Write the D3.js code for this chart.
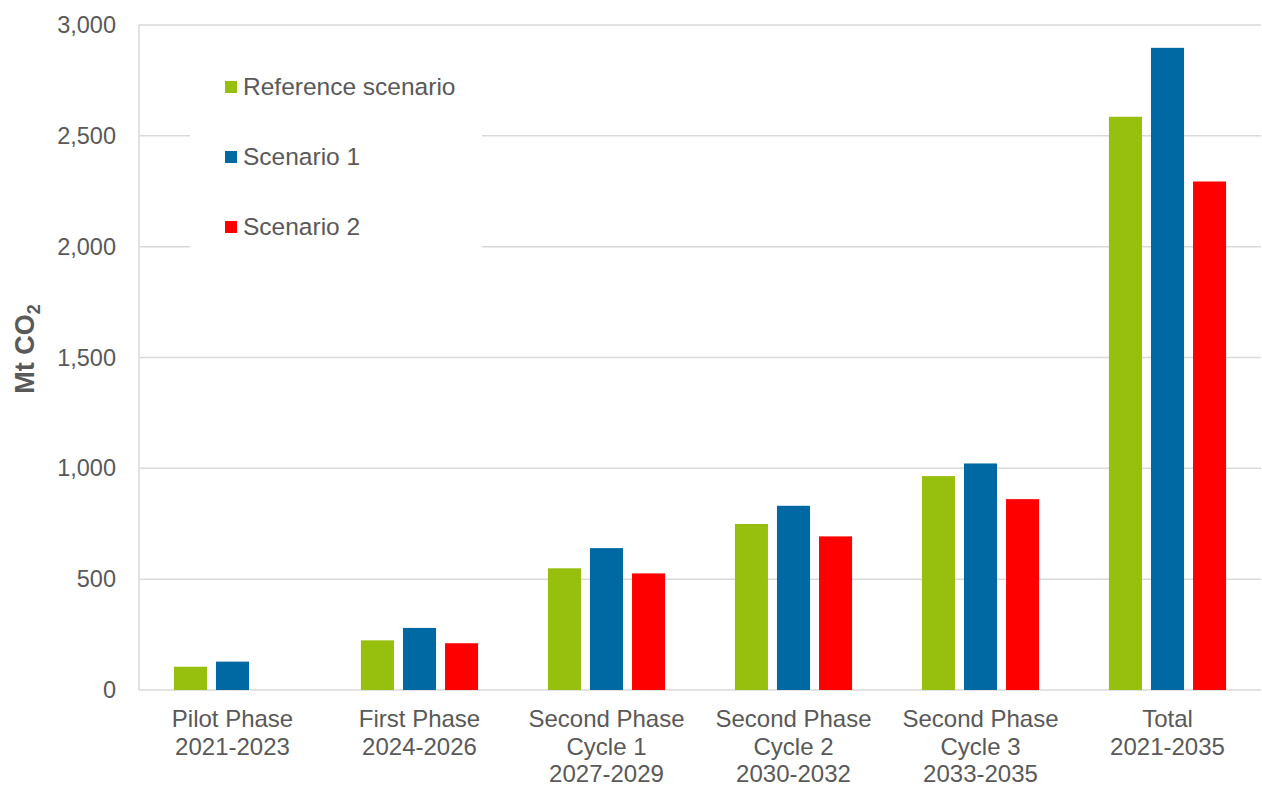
<!DOCTYPE html>
<html lang="en">
  <head>
    <meta charset="utf-8">
    <title>Mt CO2 by phase</title>
    <script src="https://d3js.org/d3.v7.min.js"></script>
    <style>
      body { margin: 0; background: #fff; }
    </style>
  </head>
  <body>
    <script type="text/javascript">
      // categories (each label is split into lines)
      const categories = [
        ["Pilot Phase", "2021-2023"],
        ["First Phase", "2024-2026"],
        ["Second Phase", "Cycle 1", "2027-2029"],
        ["Second Phase", "Cycle 2", "2030-2032"],
        ["Second Phase", "Cycle 3", "2033-2035"],
        ["Total", "2021-2035"]
      ];
      const seriesNames = ["Reference scenario", "Scenario 1", "Scenario 2"];
      const referenceValues = [105, 224, 549, 749, 965, 2586];
      const scenario1Values = [128, 280, 640, 831, 1022, 2897];
      const scenario2Values = [null, 211, 526, 693, 861, 2294];
      const yTicks = [0, 500, 1000, 1500, 2000, 2500, 3000];

      const svgWidth = 1262;
      const svgHeight = 787;
      const font = "'Liberation Sans', Arial, sans-serif";
      const textColor = "#595959";
      const gridColor = "#d9d9d9";
      const colors = ["#97bf0d", "#0069a3", "#ff0000"];

      const plotLeft = 139, plotRight = 1261, plotTop = 25, plotBottom = 690;

      const series = [referenceValues, scenario1Values, scenario2Values];
      const keys = categories.map(c => c.join(" "));

      var svg = d3.select("body")
        .append("svg")
        .attr("width", svgWidth)
        .attr("height", svgHeight);

      var xScale = d3.scaleBand()
        .domain(keys)
        .range([plotLeft, plotRight]);

      var xSub = d3.scaleBand()
        .domain(d3.range(series.length))
        .range([0, xScale.bandwidth()])
        .paddingInner(0.214)
        .paddingOuter(0.83);

      var yScale = d3.scaleLinear()
        .domain([0, 3000])
        .range([plotBottom, plotTop]);

      // gridlines
      svg.append("g")
        .attr("class", "grid")
        .selectAll("line")
        .data(yTicks)
        .enter()
        .append("line")
        .attr("x1", plotLeft)
        .attr("x2", plotRight)
        .attr("y1", d => yScale(d))
        .attr("y2", d => yScale(d))
        .attr("stroke", gridColor)
        .attr("stroke-width", 1.5);

      // vertical axis line
      svg.append("line")
        .attr("x1", plotLeft)
        .attr("x2", plotLeft)
        .attr("y1", yScale(3000))
        .attr("y2", yScale(0))
        .attr("stroke", gridColor)
        .attr("stroke-width", 1.5);

      // y tick labels
      var yAxis = svg.append("g")
        .attr("class", "y-axis")
        .attr("transform", `translate(${plotLeft - 23},0)`)
        .call(d3.axisLeft(yScale).tickValues(yTicks).tickFormat(d3.format(",")).tickSize(0).tickPadding(0));
      yAxis.select(".domain").remove();
      yAxis.selectAll("text")
        .attr("font-family", font)
        .attr("font-size", "23.5px")
        .attr("fill", textColor);

      // bars
      var gBars = svg.append("g")
        .attr("class", "bars")
        .selectAll("g")
        .data(series)
        .enter()
        .append("g")
        .attr("fill", (d, i) => colors[i]);

      gBars.selectAll("rect")
        .data((d, si) => d.map((v, j) => ({ v: v, key: keys[j], si: si })).filter(o => o.v != null))
        .enter()
        .append("rect")
        .attr("x", d => xScale(d.key) + xSub(d.si))
        .attr("y", d => yScale(d.v))
        .attr("width", xSub.bandwidth())
        .attr("height", d => yScale(0) - yScale(d.v));

      // x labels
      var gX = svg.append("g")
        .attr("class", "x-labels")
        .selectAll("text")
        .data(categories)
        .enter()
        .append("text")
        .attr("x", (d, i) => xScale(keys[i]) + xScale.bandwidth() / 2)
        .attr("y", 727)
        .attr("text-anchor", "middle")
        .attr("font-family", font)
        .attr("font-size", "24px")
        .attr("fill", textColor);

      gX.selectAll("tspan")
        .data(d => d)
        .enter()
        .append("tspan")
        .attr("x", function() { return d3.select(this.parentNode).attr("x"); })
        .attr("dy", (d, i) => i === 0 ? 0 : 27.5)
        .text(d => d);

      // y axis title
      var yTitle = svg.append("text")
        .attr("transform", "translate(34,349) rotate(-90)")
        .attr("text-anchor", "middle")
        .attr("font-family", font)
        .attr("font-size", "27px")
        .attr("font-weight", "bold")
        .attr("fill", textColor);
      yTitle.append("tspan").text("Mt CO");
      yTitle.append("tspan").attr("font-size", "18px").attr("dy", 6).text("2");

      // legend
      var legend = svg.append("g").attr("class", "legend");
      legend.append("rect")
        .attr("x", 190)
        .attr("y", 45)
        .attr("width", 292)
        .attr("height", 212)
        .attr("fill", "#fff");

      var items = legend.selectAll("g.item")
        .data(seriesNames)
        .enter()
        .append("g")
        .attr("class", "item")
        .attr("transform", (d, i) => `translate(225,${87 + i * 70})`);

      items.append("rect")
        .attr("x", 0)
        .attr("y", -6)
        .attr("width", 12)
        .attr("height", 12)
        .attr("fill", (d, i) => colors[i]);

      items.append("text")
        .attr("x", 18)
        .attr("y", 8)
        .attr("font-family", font)
        .attr("font-size", "24.5px")
        .attr("fill", textColor)
        .text(d => d);
    </script>
  </body>
</html>
